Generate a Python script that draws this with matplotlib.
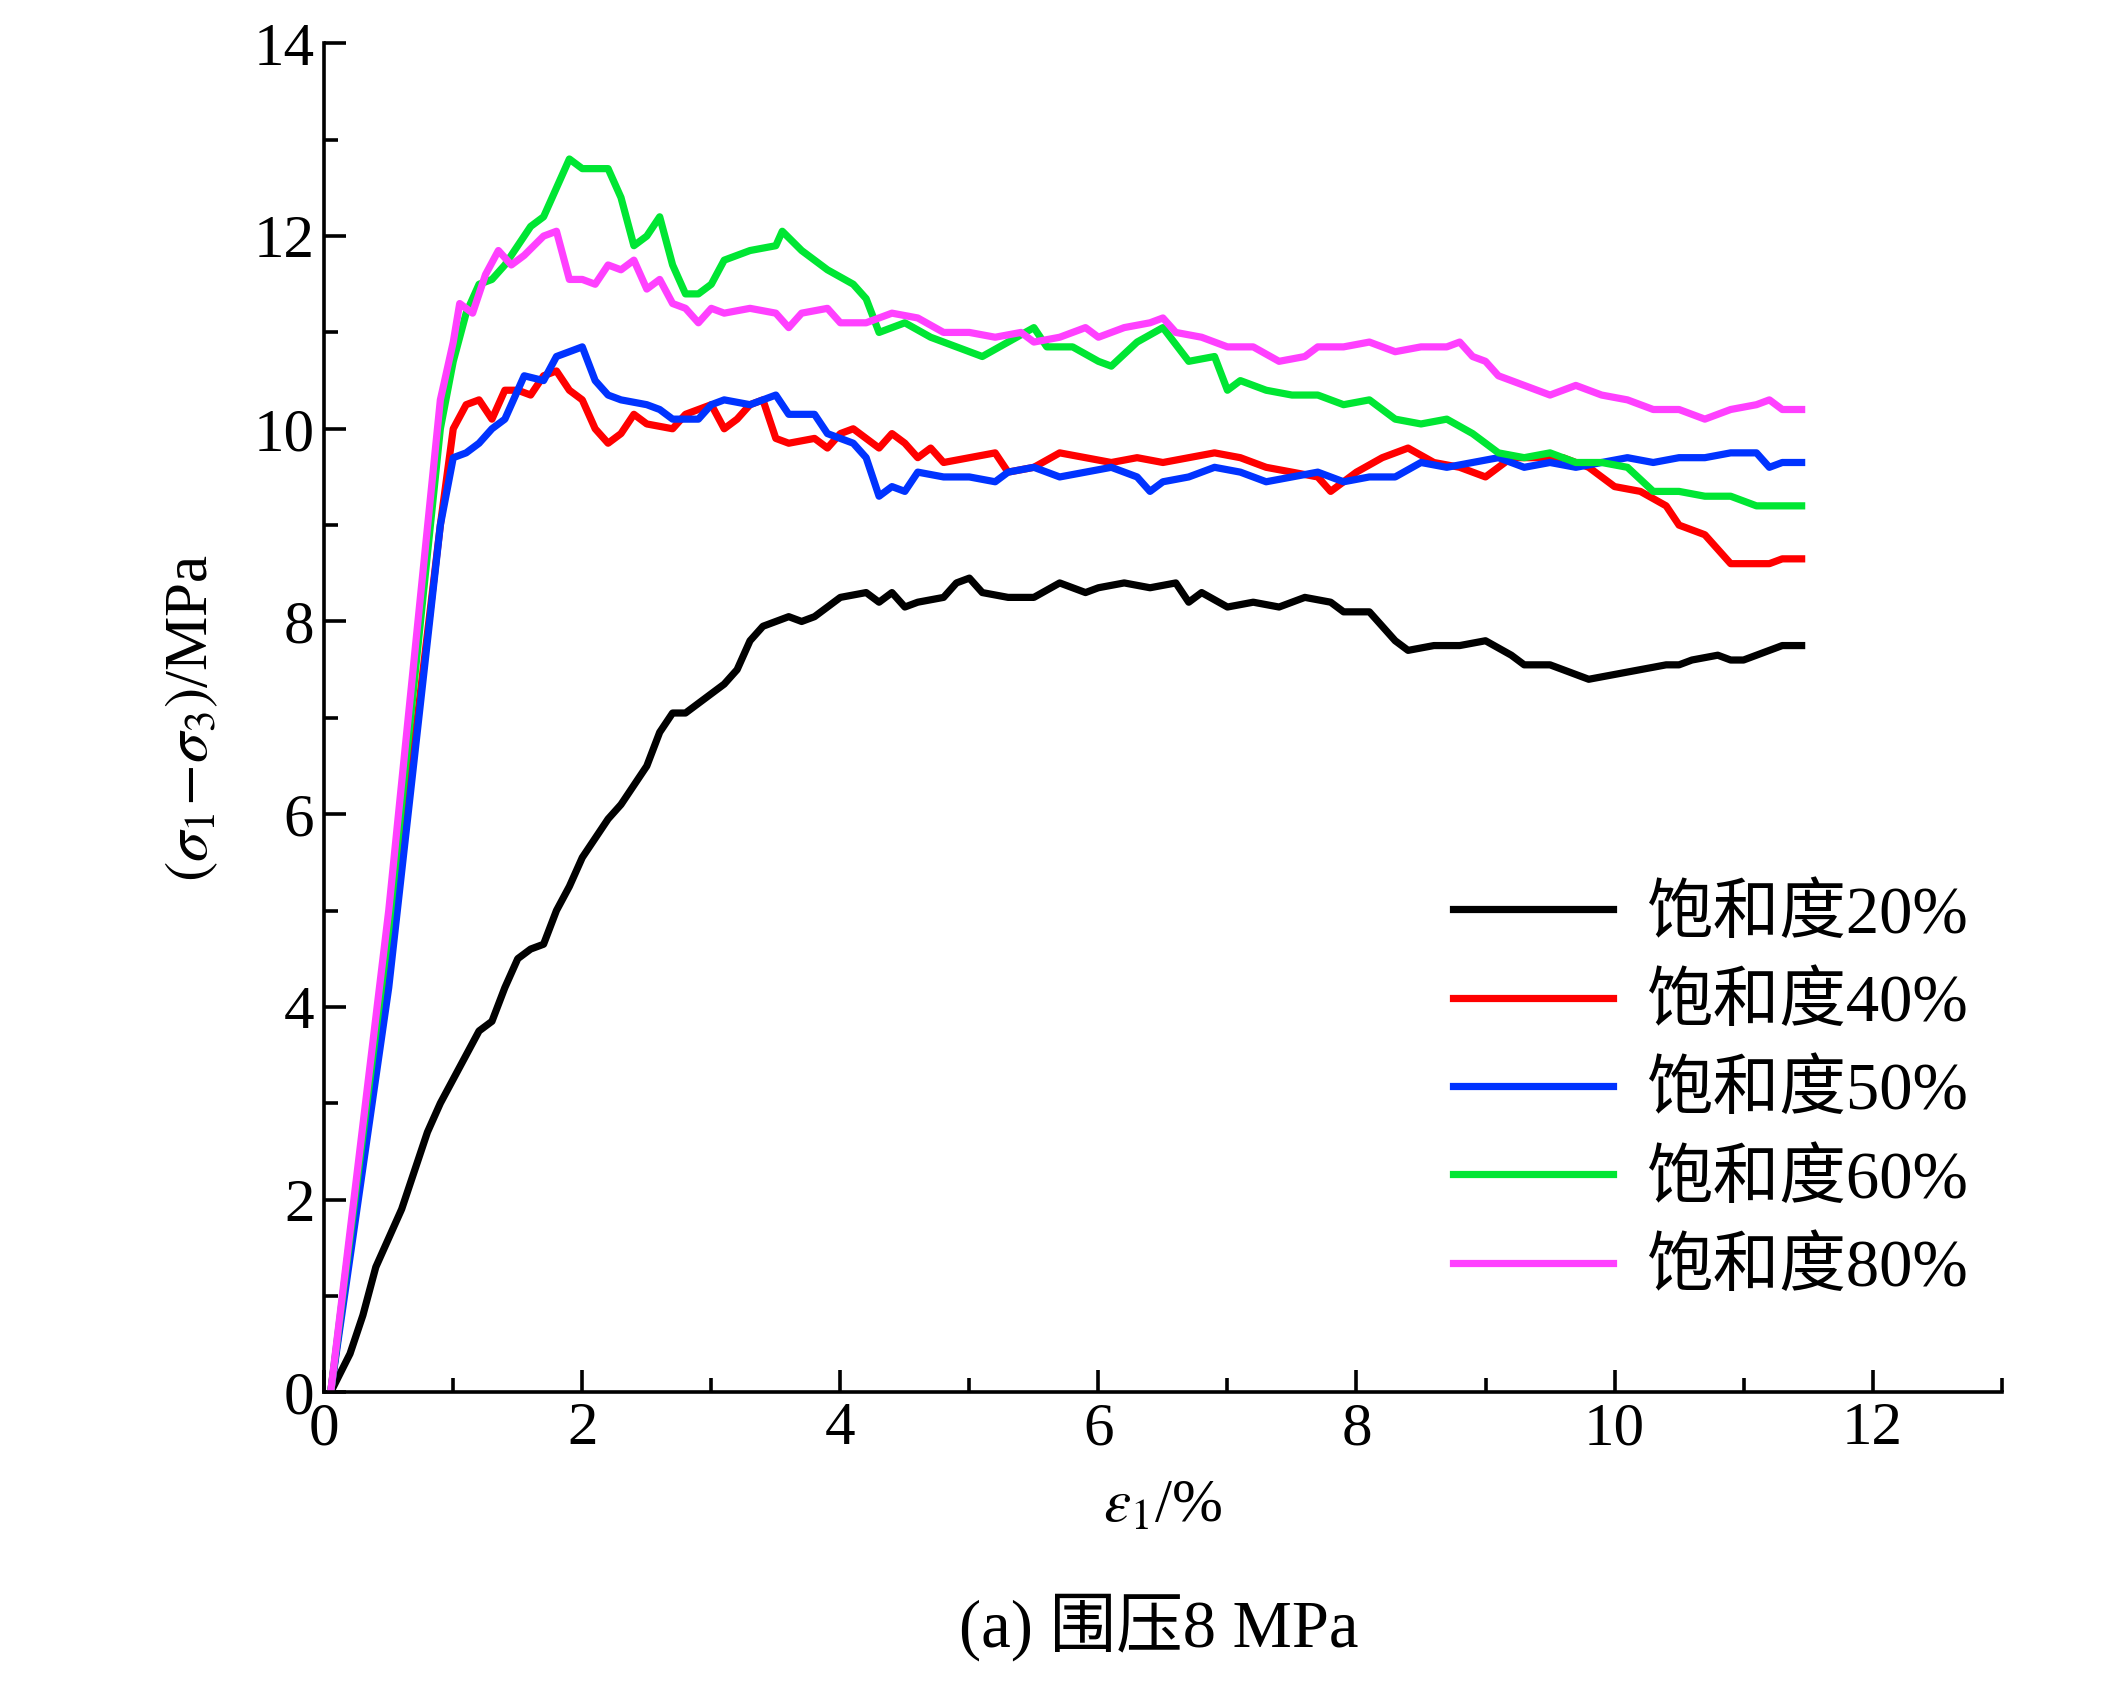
import matplotlib
matplotlib.use("Agg")
import matplotlib.pyplot as plt
from matplotlib.ticker import MultipleLocator

plt.rcParams['font.family'] = ['Liberation Serif', 'Noto Sans CJK SC']
plt.rcParams['mathtext.fontset'] = 'stix'

labels = ['饱和度20%', '饱和度40%', '饱和度50%', '饱和度60%', '饱和度80%']
colors = ['#000000', '#ff0000', '#0033ff', '#00e633', '#ff40ff']

s20 = [(0.05,0),(0.2,0.4),(0.3,0.8),(0.4,1.3),(0.5,1.6),(0.6,1.9),(0.7,2.3),(0.8,2.7),(0.9,3.0),(1.0,3.25),(1.1,3.5),(1.2,3.75),(1.3,3.85),(1.4,4.2),(1.5,4.5),(1.6,4.6),(1.7,4.65),(1.8,5.0),(1.9,5.25),(2.0,5.55),(2.1,5.75),(2.2,5.95),(2.3,6.1),(2.4,6.3),(2.5,6.5),(2.6,6.85),(2.7,7.05),(2.8,7.05),(2.9,7.15),(3.0,7.25),(3.1,7.35),(3.2,7.5),(3.3,7.8),(3.4,7.95),(3.5,8.0),(3.6,8.05),(3.7,8.0),(3.8,8.05),(4.0,8.25),(4.2,8.3),(4.3,8.2),(4.4,8.3),(4.5,8.15),(4.6,8.2),(4.8,8.25),(4.9,8.4),(5.0,8.45),(5.1,8.3),(5.3,8.25),(5.5,8.25),(5.7,8.4),(5.9,8.3),(6.0,8.35),(6.2,8.4),(6.4,8.35),(6.6,8.4),(6.7,8.2),(6.8,8.3),(7.0,8.15),(7.2,8.2),(7.4,8.15),(7.6,8.25),(7.8,8.2),(7.9,8.1),(8.1,8.1),(8.2,7.95),(8.3,7.8),(8.4,7.7),(8.6,7.75),(8.8,7.75),(9.0,7.8),(9.2,7.65),(9.3,7.55),(9.5,7.55),(9.7,7.45),(9.8,7.4),(10.0,7.45),(10.2,7.5),(10.4,7.55),(10.5,7.55),(10.6,7.6),(10.8,7.65),(10.9,7.6),(11.0,7.6),(11.2,7.7),(11.3,7.75),(11.45,7.75)]
s40 = [(0.05,0),(0.5,4.5),(0.9,9.0),(1.0,10.0),(1.1,10.25),(1.2,10.3),(1.3,10.1),(1.4,10.4),(1.5,10.4),(1.6,10.35),(1.7,10.55),(1.8,10.6),(1.9,10.4),(2.0,10.3),(2.1,10.0),(2.2,9.85),(2.3,9.95),(2.4,10.15),(2.5,10.05),(2.7,10.0),(2.8,10.15),(2.9,10.2),(3.0,10.25),(3.1,10.0),(3.2,10.1),(3.3,10.25),(3.4,10.3),(3.5,9.9),(3.6,9.85),(3.8,9.9),(3.9,9.8),(4.0,9.95),(4.1,10.0),(4.2,9.9),(4.3,9.8),(4.4,9.95),(4.5,9.85),(4.6,9.7),(4.7,9.8),(4.8,9.65),(5.0,9.7),(5.2,9.75),(5.3,9.55),(5.5,9.6),(5.7,9.75),(5.9,9.7),(6.1,9.65),(6.3,9.7),(6.5,9.65),(6.7,9.7),(6.9,9.75),(7.1,9.7),(7.3,9.6),(7.5,9.55),(7.7,9.5),(7.8,9.35),(8.0,9.55),(8.2,9.7),(8.4,9.8),(8.6,9.65),(8.8,9.6),(9.0,9.5),(9.2,9.7),(9.4,9.7),(9.6,9.7),(9.8,9.6),(10.0,9.4),(10.2,9.35),(10.4,9.2),(10.5,9.0),(10.7,8.9),(10.9,8.6),(11.1,8.6),(11.2,8.6),(11.3,8.65),(11.45,8.65)]
s50 = [(0.05,0),(0.5,4.2),(0.9,9.0),(1.0,9.7),(1.1,9.75),(1.2,9.85),(1.3,10.0),(1.4,10.1),(1.5,10.4),(1.55,10.55),(1.7,10.5),(1.8,10.75),(1.9,10.8),(2.0,10.85),(2.1,10.5),(2.2,10.35),(2.3,10.3),(2.5,10.25),(2.6,10.2),(2.7,10.1),(2.9,10.1),(3.0,10.25),(3.1,10.3),(3.3,10.25),(3.4,10.3),(3.5,10.35),(3.6,10.15),(3.8,10.15),(3.9,9.95),(4.1,9.85),(4.2,9.7),(4.3,9.3),(4.4,9.4),(4.5,9.35),(4.6,9.55),(4.8,9.5),(5.0,9.5),(5.2,9.45),(5.3,9.55),(5.5,9.6),(5.7,9.5),(5.9,9.55),(6.1,9.6),(6.3,9.5),(6.4,9.35),(6.5,9.45),(6.7,9.5),(6.9,9.6),(7.1,9.55),(7.3,9.45),(7.5,9.5),(7.7,9.55),(7.9,9.45),(8.1,9.5),(8.3,9.5),(8.5,9.65),(8.7,9.6),(8.9,9.65),(9.1,9.7),(9.3,9.6),(9.5,9.65),(9.7,9.6),(9.9,9.65),(10.1,9.7),(10.3,9.65),(10.5,9.7),(10.7,9.7),(10.9,9.75),(11.1,9.75),(11.2,9.6),(11.3,9.65),(11.45,9.65)]
s60 = [(0.05,0),(0.5,4.8),(0.9,10.0),(1.0,10.7),(1.1,11.2),(1.2,11.5),(1.3,11.55),(1.4,11.7),(1.5,11.9),(1.6,12.1),(1.7,12.2),(1.8,12.5),(1.9,12.8),(2.0,12.7),(2.2,12.7),(2.3,12.4),(2.4,11.9),(2.5,12.0),(2.6,12.2),(2.7,11.7),(2.8,11.4),(2.9,11.4),(3.0,11.5),(3.1,11.75),(3.3,11.85),(3.5,11.9),(3.55,12.05),(3.7,11.85),(3.9,11.65),(4.1,11.5),(4.2,11.35),(4.3,11.0),(4.5,11.1),(4.7,10.95),(4.9,10.85),(5.0,10.8),(5.1,10.75),(5.3,10.9),(5.5,11.05),(5.6,10.85),(5.8,10.85),(6.0,10.7),(6.1,10.65),(6.3,10.9),(6.5,11.05),(6.7,10.7),(6.9,10.75),(7.0,10.4),(7.1,10.5),(7.3,10.4),(7.5,10.35),(7.7,10.35),(7.9,10.25),(8.1,10.3),(8.3,10.1),(8.5,10.05),(8.7,10.1),(8.9,9.95),(9.1,9.75),(9.3,9.7),(9.5,9.75),(9.7,9.65),(9.9,9.65),(10.1,9.6),(10.3,9.35),(10.5,9.35),(10.7,9.3),(10.9,9.3),(11.1,9.2),(11.3,9.2),(11.45,9.2)]
s80 = [(0.05,0),(0.5,5.0),(0.9,10.3),(1.0,10.9),(1.05,11.3),(1.15,11.2),(1.25,11.6),(1.35,11.85),(1.45,11.7),(1.55,11.8),(1.7,12.0),(1.8,12.05),(1.9,11.55),(2.0,11.55),(2.1,11.5),(2.2,11.7),(2.3,11.65),(2.4,11.75),(2.5,11.45),(2.6,11.55),(2.7,11.3),(2.8,11.25),(2.9,11.1),(3.0,11.25),(3.1,11.2),(3.3,11.25),(3.5,11.2),(3.6,11.05),(3.7,11.2),(3.9,11.25),(4.0,11.1),(4.2,11.1),(4.4,11.2),(4.6,11.15),(4.8,11.0),(5.0,11.0),(5.2,10.95),(5.4,11.0),(5.5,10.9),(5.7,10.95),(5.9,11.05),(6.0,10.95),(6.2,11.05),(6.4,11.1),(6.5,11.15),(6.6,11.0),(6.8,10.95),(7.0,10.85),(7.2,10.85),(7.4,10.7),(7.6,10.75),(7.7,10.85),(7.9,10.85),(8.1,10.9),(8.3,10.8),(8.5,10.85),(8.7,10.85),(8.8,10.9),(8.9,10.75),(9.0,10.7),(9.1,10.55),(9.3,10.45),(9.5,10.35),(9.7,10.45),(9.9,10.35),(10.1,10.3),(10.3,10.2),(10.5,10.2),(10.7,10.1),(10.9,10.2),(11.1,10.25),(11.2,10.3),(11.3,10.2),(11.45,10.2)]
series = [s20, s40, s50, s60, s80]

fig = plt.figure(figsize=(10.63, 8.505), dpi=200)
ax = fig.add_axes([0.1525, 0.1815, 0.789, 0.793])
for s, c, l in zip(series, colors, labels):
    ax.plot([p[0] for p in s], [p[1] for p in s], color=c, lw=2.6, label=l)

ax.set_xlim(0, 13)
ax.set_ylim(0, 14)
ax.xaxis.set_major_locator(MultipleLocator(2))
ax.xaxis.set_minor_locator(MultipleLocator(1))
ax.yaxis.set_major_locator(MultipleLocator(2))
ax.yaxis.set_minor_locator(MultipleLocator(1))
ax.tick_params(which='both', direction='in', labelsize=22, width=1.3)
ax.tick_params(which='major', length=8)
ax.tick_params(which='minor', length=5)
for sp in ['top', 'right']:
    ax.spines[sp].set_visible(False)
for sp in ['left', 'bottom']:
    ax.spines[sp].set_linewidth(1.3)
ax.set_ylabel(r'$(\sigma_1\!-\!\sigma_3)$/MPa', fontsize=22, labelpad=12)
ax.set_xlabel(r'$\varepsilon_1$/%', fontsize=22, labelpad=8)
leg = ax.legend(loc='upper left', bbox_to_anchor=(0.655, 0.515), bbox_transform=fig.transFigure,
                frameon=False, fontsize=24, handlelength=2.4, labelspacing=0.4,
                handletextpad=0.5)
fig.text(0.545, 0.032, '(a) 围压8 MPa', ha='center', fontsize=24)
fig.savefig('out.png', dpi=200)
